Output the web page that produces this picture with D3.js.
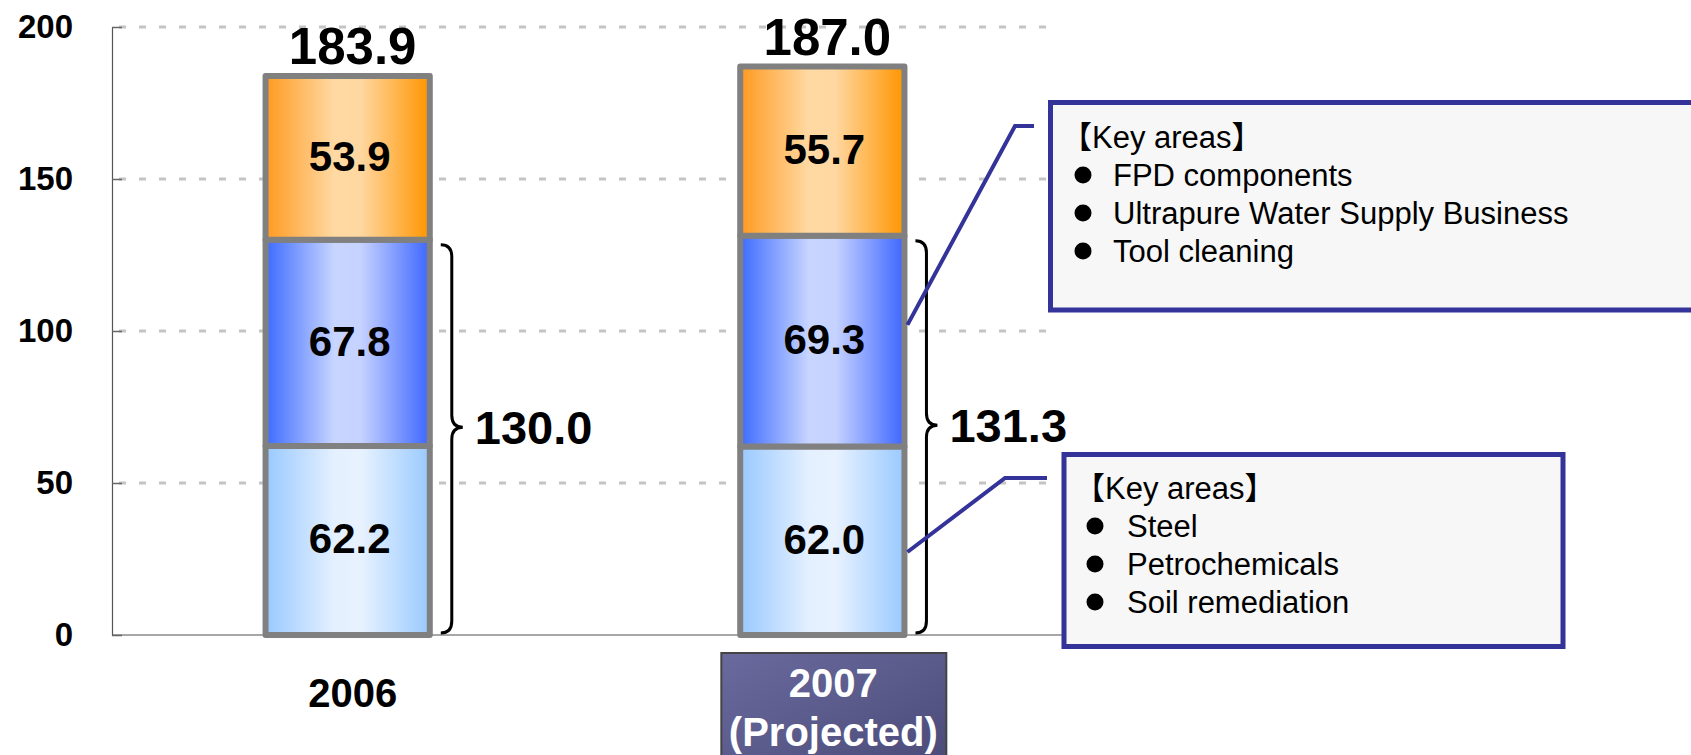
<!DOCTYPE html>
<html>
<head>
<meta charset="utf-8">
<script src="https://cdn.jsdelivr.net/npm/d3@7"></script>
<style>
  body { margin: 0; background: #fff; }
  text { font-family: "Liberation Sans", Arial, "Noto Sans CJK JP", sans-serif; }
</style>
</head>
<body>
<script>
// data
var categories = ["2006", "2007"];
var lowerValues = [62.2, 62.0];
var middleValues = [67.8, 69.3];
var upperValues = [53.9, 55.7];
var yTicks = [0, 50, 100, 150, 200];
var upperCallout = ["FPD components", "Ultrapure Water Supply Business", "Tool cleaning"];
var lowerCallout = ["Steel", "Petrochemicals", "Soil remediation"];

var width = 1691, height = 755;

var svg = d3.select("body")
  .append("svg")
    .attr("width", width)
    .attr("height", height);

var table = categories.map(function(c, i) {
  return {cat: c, lower: lowerValues[i], middle: middleValues[i], upper: upperValues[i]};
});
var keys = ["lower", "middle", "upper"];
var stacked = d3.stack().keys(keys)(table);

// scales
var x = d3.scaleBand()
  .domain(categories)
  .range([112, 1058])
  .paddingInner(0.654)
  .paddingOuter(0.3235);

var y = d3.scaleLinear()
  .domain([0, 200])
  .range([635, 27]);

// gradients
var defs = svg.append("defs");
var grads = {
  lower:  ["#99c9ff", "#e4f0ff", "#e8f2ff", "#99c9ff"],
  middle: ["#3d6bff", "#c8d5ff", "#c6d2ff", "#3d66ff"],
  upper:  ["#ff9a1f", "#ffd9a3", "#ffd7a0", "#ff9500"]
};
keys.forEach(function(k) {
  var g = defs.append("linearGradient").attr("id", "g-" + k)
    .attr("x1", 0).attr("x2", 1).attr("y1", 0).attr("y2", 0);
  [0, 0.42, 0.58, 1].forEach(function(o, i) {
    g.append("stop").attr("offset", o).attr("stop-color", grads[k][i]);
  });
});
var lg = defs.append("linearGradient").attr("id", "g-label")
  .attr("x1", 0).attr("x2", 1).attr("y1", 0).attr("y2", 1);
lg.append("stop").attr("offset", 0).attr("stop-color", "#6a6a9e");
lg.append("stop").attr("offset", 1).attr("stop-color", "#4a4a78");

// grid
svg.append("g")
  .selectAll("line")
  .data(yTicks.filter(function(d) { return d > 0; }))
  .enter()
  .append("line")
    .attr("x1", 112).attr("x2", 1058)
    .attr("y1", function(d) { return y(d); })
    .attr("y2", function(d) { return y(d); })
    .attr("stroke", "#c4c4c4")
    .attr("stroke-width", 3)
    .attr("stroke-dasharray", "7,13")
    .attr("stroke-dashoffset", -7);

// x axis line
svg.append("line")
  .attr("x1", 112).attr("x2", 1062)
  .attr("y1", y(0)).attr("y2", y(0))
  .attr("stroke", "#8a8a8a")
  .attr("stroke-width", 1.5);

// y axis
var yAxis = svg.append("g")
  .attr("transform", "translate(112,0)")
  .call(d3.axisLeft(y).tickValues(yTicks).tickSizeInner(-10).tickSizeOuter(0).tickPadding(39));
yAxis.select(".domain").attr("stroke", "#555").attr("stroke-width", 1.2);
yAxis.selectAll(".tick line").attr("stroke", "#666").attr("stroke-width", 1.5);
yAxis.selectAll("text")
  .attr("fill", "#000")
  .style("font-size", "33px")
  .style("font-weight", "bold");

// bars
var layers = svg.append("g")
  .selectAll("g")
  .data(stacked)
  .enter()
  .append("g")
    .attr("fill", function(d) { return "url(#g-" + d.key + ")"; });

layers.selectAll("rect")
  .data(function(d) { return d; })
  .enter()
  .append("rect")
    .attr("x", function(d) { return x(d.data.cat); })
    .attr("y", function(d) { return y(d[1]); })
    .attr("width", x.bandwidth())
    .attr("height", function(d) { return y(d[0]) - y(d[1]); })
    .attr("stroke", "#808080")
    .attr("stroke-width", 6)
    .attr("stroke-linejoin", "round");

// segment labels
layers.selectAll("text")
  .data(function(d) { return d; })
  .enter()
  .append("text")
    .attr("x", function(d) { return x(d.data.cat) + x.bandwidth() / 2 + 2; })
    .attr("y", function(d) { return y((d[0] + d[1]) / 2) + 13; })
    .attr("text-anchor", "middle")
    .attr("fill", "#000")
    .style("font-size", "42px")
    .style("font-weight", "bold")
    .text(function(d) { return (d[1] - d[0]).toFixed(1); });

// totals
var topLayer = stacked[stacked.length - 1];
svg.append("g")
  .selectAll("text")
  .data(topLayer)
  .enter()
  .append("text")
    .attr("x", function(d) { return x(d.data.cat) + x.bandwidth() / 2 + 5; })
    .attr("y", function(d) { return y(d[1]) - 12; })
    .attr("text-anchor", "middle")
    .style("font-size", "51px")
    .style("font-weight", "bold")
    .text(function(d) { return d[1].toFixed(1); });

// braces around lower two segments
var midLayer = stacked[1];
var braces = svg.append("g");
midLayer.forEach(function(d) {
  var x0 = x(d.data.cat) + x.bandwidth() + 11;
  var xm = x0 + 11, xt = x0 + 22;
  var yTop = y(d[1]) + 5, yBot = y(0) - 2;
  var yTip = yTop + (yBot - yTop) * 0.47;
  var r = 12;
  var p = "M" + x0 + "," + yTop +
    " Q" + xm + "," + yTop + " " + xm + "," + (yTop + r) +
    " L" + xm + "," + (yTip - r) +
    " Q" + xm + "," + yTip + " " + xt + "," + yTip +
    " Q" + xm + "," + yTip + " " + xm + "," + (yTip + r) +
    " L" + xm + "," + (yBot - r) +
    " Q" + xm + "," + yBot + " " + x0 + "," + yBot;
  braces.append("path")
    .attr("d", p)
    .attr("fill", "none")
    .attr("stroke", "#000")
    .attr("stroke-width", 3);
  braces.append("text")
    .attr("x", xt + 12)
    .attr("y", yTip + 17)
    .style("font-size", "47px")
    .style("font-weight", "bold")
    .text(d[1].toFixed(1));
});

// category labels
var c0 = categories[0], c1 = categories[1];
svg.append("text")
  .attr("x", x(c0) + x.bandwidth() / 2 + 5)
  .attr("y", 707)
  .attr("text-anchor", "middle")
  .style("font-size", "40px")
  .style("font-weight", "bold")
  .text(c0);

var lx = x(c1) + x.bandwidth() / 2 + 11;
svg.append("rect")
  .attr("x", lx - 112).attr("y", 653)
  .attr("width", 225).attr("height", 120)
  .attr("fill", "url(#g-label)")
  .attr("stroke", "#444")
  .attr("stroke-width", 2);
svg.append("text")
  .attr("x", lx).attr("y", 697)
  .attr("text-anchor", "middle")
  .attr("fill", "#fff")
  .style("font-size", "40px")
  .style("font-weight", "bold")
  .text(c1);
svg.append("text")
  .attr("x", lx).attr("y", 746)
  .attr("text-anchor", "middle")
  .attr("fill", "#fff")
  .style("font-size", "40px")
  .style("font-weight", "bold")
  .text("(Projected)");

// callouts
var barRight = x(c1) + x.bandwidth() + 3;
function callout(bx, by, bw, bh, items, textX, firstBase, bulletX, itemX, fromVal, bend, end) {
  svg.append("polyline")
    .attr("points", [[barRight, y(fromVal)], bend, end].join(" "))
    .attr("fill", "none")
    .attr("stroke", "#333399")
    .attr("stroke-width", 4);
  svg.append("rect")
    .attr("x", bx).attr("y", by)
    .attr("width", bw).attr("height", bh)
    .attr("fill", "#f7f7f7")
    .attr("stroke", "#333399")
    .attr("stroke-width", 5);
  svg.append("text")
    .attr("x", textX).attr("y", firstBase)
    .style("font-size", "31px")
    .text("【Key areas】");
  items.forEach(function(t, i) {
    var b = firstBase + 38 * (i + 1);
    svg.append("circle")
      .attr("cx", bulletX).attr("cy", b - 11)
      .attr("r", 8.5)
      .attr("fill", "#000");
    svg.append("text")
      .attr("x", itemX).attr("y", b)
      .style("font-size", "31px")
      .text(t);
  });
}
callout(1050.5, 102.5, 700, 207.5, upperCallout, 1061, 148, 1083, 1113, 102, [1015, 126], [1034, 126]);
callout(1064, 454.5, 499, 192, lowerCallout, 1074, 499, 1095, 1127, 27.3, [1005, 478], [1047, 478]);
</script>
</body>
</html>
